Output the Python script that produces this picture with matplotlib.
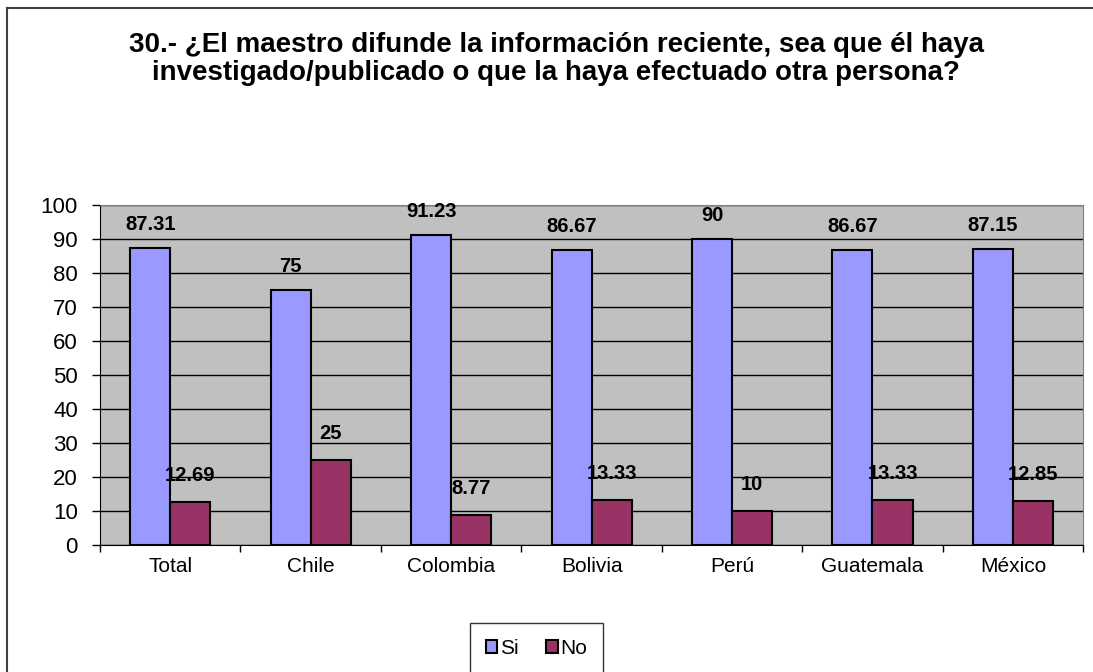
import matplotlib.pyplot as plt
import matplotlib.lines as mlines
import numpy as np

# Chart data
categories = ['Total', 'Chile', 'Colombia', 'Bolivia', 'Perú', 'Guatemala', 'México']
si_values = [87.31, 75, 91.23, 86.67, 90, 86.67, 87.15]
no_values = [12.69, 25, 8.77, 13.33, 10, 13.33, 12.85]
si_labels = ['87.31', '75', '91.23', '86.67', '90', '86.67', '87.15']
no_labels = ['12.69', '25', '8.77', '13.33', '10', '13.33', '12.85']

plt.rcParams['font.family'] = ['Liberation Sans', 'DejaVu Sans']

fig = plt.figure(figsize=(10.93, 6.72), dpi=100)
ax = fig.add_axes([0.0915, 0.189, 0.8995, 0.506])

x = np.arange(len(categories))
w = 0.285
bars_si = ax.bar(x - w / 2, si_values, w, color='#9999FF', edgecolor='black', linewidth=1.5, label='Si', zorder=3)
bars_no = ax.bar(x + w / 2, no_values, w, color='#993366', edgecolor='black', linewidth=1.5, label='No', zorder=3)

# value labels above the bars
for b, lab in zip(bars_si, si_labels):
    ax.annotate(lab, (b.get_x() + b.get_width() / 2, b.get_height()), xytext=(0, 17),
                textcoords='offset points', ha='center', va='center', fontsize=14.5, fontweight='bold', zorder=5)
for b, lab in zip(bars_no, no_labels):
    ax.annotate(lab, (b.get_x() + b.get_width() / 2, b.get_height()), xytext=(0, 19),
                textcoords='offset points', ha='center', va='center', fontsize=14.5, fontweight='bold', zorder=5)

ax.set_facecolor('#C0C0C0')
ax.set_xlim(-0.5, len(categories) - 0.5)
ax.set_ylim(0, 100)
ax.set_yticks(np.arange(0, 101, 10))
ax.tick_params(axis='y', labelsize=16, direction='out', length=6, width=1, pad=10)
ax.yaxis.grid(True, color='black', linewidth=1, zorder=0)
ax.set_axisbelow(True)

ax.set_xticks(x)
ax.set_xticklabels(categories, fontsize=15)
ax.tick_params(axis='x', length=0, pad=9)
ax.set_xticks(np.arange(-0.5, len(categories), 1), minor=True)
ax.tick_params(axis='x', which='minor', direction='out', length=5, width=1)

for side in ['top', 'right']:
    ax.spines[side].set_color('#808080')
ax.spines['left'].set_color('black')
ax.spines['bottom'].set_color('black')

fig.text(0.509, 0.953, '30.- ¿El maestro difunde la información reciente, sea que él haya\n'
         'investigado/publicado o que la haya efectuado otra persona?',
         ha='center', va='top', fontsize=20, fontweight='bold', linespacing=1.13)

leg = fig.legend(loc='center', bbox_to_anchor=(0.491, 0.035), ncol=2, fontsize=15,
                 frameon=True, fancybox=False, edgecolor='black', handlelength=0.55,
                 handleheight=0.55, handletextpad=0.15, columnspacing=1.3, borderpad=0.75,
                 borderaxespad=0)
leg.get_frame().set_linewidth(1)

# chart frame: only top and left edges are inside the picture
fig.lines.append(mlines.Line2D([0.0064, 1.0], [0.988, 0.988], transform=fig.transFigure,
                               color='#404040', linewidth=1.5))
fig.lines.append(mlines.Line2D([0.0064, 0.0064], [0.0, 0.988], transform=fig.transFigure,
                               color='#404040', linewidth=1.5))

fig.savefig('out.png', dpi=100)
